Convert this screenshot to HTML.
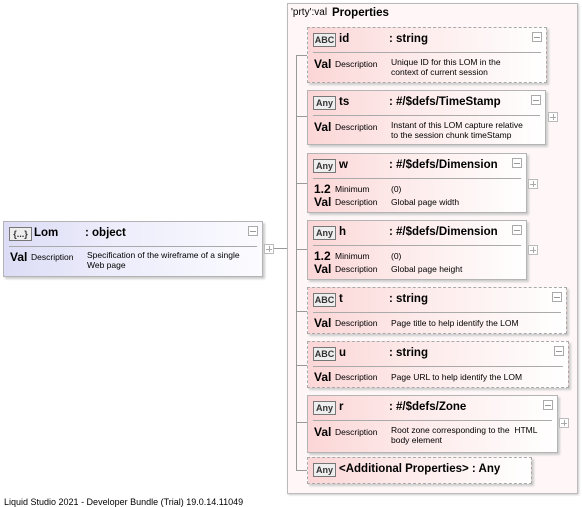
<!DOCTYPE html>
<html><head><style>
body{margin:0;width:582px;height:507px;background:#fff;font-family:"Liberation Sans",sans-serif;position:relative;overflow:hidden;color:#000}
.a{position:absolute}
.box{position:absolute;box-sizing:border-box;border:1px solid #b4b4b4;background:linear-gradient(90deg,#fcd6d6 0%,#fde9e9 40%,#fff 100%);box-shadow:2px 2px 2px #ccc}
.d{border:1px dashed #aaa}
.sep{position:absolute;left:5px;right:5px;top:24px;border-top:1px solid #aaa}
.ic{position:absolute;left:5px;top:5px;width:21px;height:12px;border:1px solid #777;background:#eee;font-size:9px;font-weight:bold;line-height:12px;text-align:center;color:#333;overflow:hidden;white-space:nowrap}
.nm{position:absolute;left:31px;top:5px;font-size:11.5px;font-weight:bold}
.ty{position:absolute;left:81px;top:5px;font-size:11.5px;font-weight:bold}
.mi{position:absolute;right:4px;top:4px;width:8px;height:8px;border:1px solid #aaa;background:#fff}
.mi:after{content:"";position:absolute;left:1px;right:1px;top:4px;border-top:1px solid #999}
.pl{position:absolute;width:8px;height:8px;border:1px solid #bbb;background:#fff}
.pl:after{content:"";position:absolute;left:1px;right:1px;top:4px;border-top:1px solid #aaa}
.pl:before{content:"";position:absolute;top:1px;bottom:1px;left:4px;border-left:1px solid #aaa}
.v{position:absolute;left:6px;font-size:12px;font-weight:bold}
.k{position:absolute;left:27px;font-size:8.5px}
.t{position:absolute;left:83px;font-size:8.5px;line-height:10px}
.ln{position:absolute;background:#999}
</style></head><body>
<div class="a" style="left:287px;top:3px;width:291px;height:491px;border:1px solid #bbb;box-sizing:border-box;background:#fff7f7;box-shadow:1px 1px 2px #ccc"></div>
<div class="a" style="left:291px;top:7px;font-size:10px">'prty':val</div>
<div class="a" style="left:332px;top:7px;font-size:11.5px;font-weight:bold">Properties</div>
<div class="ln" style="left:296px;top:55px;width:1px;height:415px"></div>
<div class="ln" style="left:296px;top:55px;width:11px;height:1px"></div>
<div class="ln" style="left:296px;top:116px;width:11px;height:1px"></div>
<div class="ln" style="left:296px;top:183px;width:11px;height:1px"></div>
<div class="ln" style="left:296px;top:249px;width:11px;height:1px"></div>
<div class="ln" style="left:296px;top:311px;width:11px;height:1px"></div>
<div class="ln" style="left:296px;top:365px;width:11px;height:1px"></div>
<div class="ln" style="left:296px;top:422px;width:11px;height:1px"></div>
<div class="ln" style="left:296px;top:470px;width:11px;height:1px"></div>
<div class="ln" style="left:271px;top:248px;width:16px;height:1px"></div>

<div class="box" style="left:3px;top:221px;width:260px;height:56px;background:linear-gradient(90deg,#dcdcf6 0%,#ececfb 40%,#fbfbff 100%)">
<div class="ic">{...}</div><div class="nm" style="left:30px">Lom</div><div class="ty">: object</div><div class="mi"></div><div class="sep"></div>
<div class="v" style="top:28px">Val</div><div class="k" style="top:30px">Description</div><div class="t" style="top:28px">Specification of the wireframe of a single<br>Web page</div></div>
<div class="pl" style="left:264px;top:244px"></div>

<div class="box d" style="left:307px;top:27px;width:240px;height:56px"><div class="ic">ABC</div><div class="nm">id</div><div class="ty">: string</div><div class="mi"></div><div class="sep"></div>
<div class="v" style="top:29px">Val</div><div class="k" style="top:31px">Description</div><div class="t" style="top:29px">Unique ID for this LOM in the<br>context of current session</div></div>

<div class="box" style="left:307px;top:90px;width:239px;height:55px"><div class="ic">Any</div><div class="nm">ts</div><div class="ty">: #/$defs/TimeStamp</div><div class="mi"></div><div class="sep"></div>
<div class="v" style="top:29px">Val</div><div class="k" style="top:31px">Description</div><div class="t" style="top:29px">Instant of this LOM capture relative<br>to the session chunk timeStamp</div></div>
<div class="pl" style="left:548px;top:112px"></div>

<div class="box" style="left:307px;top:153px;width:220px;height:60px"><div class="ic">Any</div><div class="nm">w</div><div class="ty">: #/$defs/Dimension</div><div class="mi"></div><div class="sep"></div>
<div class="v" style="top:28px">1.2</div><div class="k" style="top:30px">Minimum</div><div class="t" style="top:30px">(0)</div>
<div class="v" style="top:41px">Val</div><div class="k" style="top:43px">Description</div><div class="t" style="top:43px">Global page width</div></div>
<div class="pl" style="left:528px;top:179px"></div>

<div class="box" style="left:307px;top:220px;width:220px;height:60px"><div class="ic">Any</div><div class="nm">h</div><div class="ty">: #/$defs/Dimension</div><div class="mi"></div><div class="sep"></div>
<div class="v" style="top:28px">1.2</div><div class="k" style="top:30px">Minimum</div><div class="t" style="top:30px">(0)</div>
<div class="v" style="top:41px">Val</div><div class="k" style="top:43px">Description</div><div class="t" style="top:43px">Global page height</div></div>
<div class="pl" style="left:528px;top:245px"></div>

<div class="box d" style="left:307px;top:287px;width:260px;height:47px"><div class="ic">ABC</div><div class="nm">t</div><div class="ty">: string</div><div class="mi"></div><div class="sep"></div>
<div class="v" style="top:28px">Val</div><div class="k" style="top:30px">Description</div><div class="t" style="top:30px">Page title to help identify the LOM</div></div>

<div class="box d" style="left:307px;top:341px;width:262px;height:47px"><div class="ic">ABC</div><div class="nm">u</div><div class="ty">: string</div><div class="mi"></div><div class="sep"></div>
<div class="v" style="top:28px">Val</div><div class="k" style="top:30px">Description</div><div class="t" style="top:30px">Page URL to help identify the LOM</div></div>

<div class="box" style="left:307px;top:395px;width:251px;height:58px"><div class="ic">Any</div><div class="nm">r</div><div class="ty">: #/$defs/Zone</div><div class="mi"></div><div class="sep"></div>
<div class="v" style="top:29px">Val</div><div class="k" style="top:31px">Description</div><div class="t" style="top:29px">Root zone corresponding to the &nbsp;HTML<br>body element</div></div>
<div class="pl" style="left:559px;top:418px"></div>

<div class="box d" style="left:307px;top:457px;width:225px;height:27px"><div class="ic">Any</div><div class="nm">&lt;Additional Properties&gt; : Any</div></div>

<div class="a" style="left:4px;top:497px;font-size:9px">Liquid Studio 2021 - Developer Bundle (Trial) 19.0.14.11049</div>
</body></html>
